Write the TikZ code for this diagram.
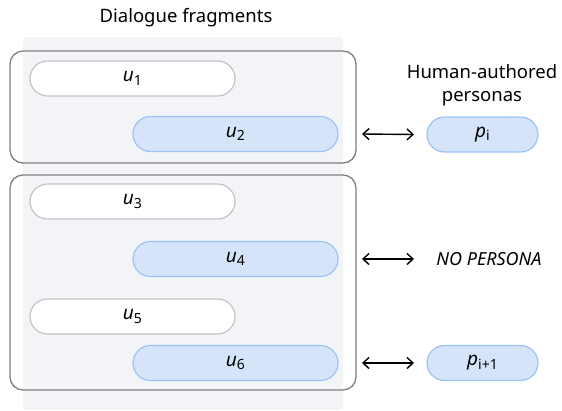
\documentclass[tikz,border=0pt]{standalone}
\usepackage{fontspec}
\setmainfont{Noto Sans}
\usetikzlibrary{arrows.meta}
\definecolor{panel}{HTML}{F2F4F8}
\definecolor{grpline}{HTML}{7F7F7F}
\definecolor{wline}{HTML}{C4C4C4}
\definecolor{bfill}{HTML}{D6E4FA}
\definecolor{bline}{HTML}{9CC2F6}
\newcommand{\utt}[2]{\textit{#1}\raisebox{-0.35ex}{\fontsize{14}{16}\selectfont #2}}
\tikzset{
  pill/.style={rounded corners=17.5pt, line width=1.2pt, minimum height=35pt, inner sep=0pt, font=\fontsize{19}{22}\selectfont},
  upill/.style={pill, draw=wline, fill=white, minimum width=205pt},
  apill/.style={pill, draw=bline, fill=bfill, minimum width=205pt},
  ppill/.style={pill, draw=bline, fill=bfill, minimum width=111pt},
  grp/.style={draw=grpline, line width=1.3pt, rounded corners=13pt},
  link/.style={{Straight Barb[length=6pt,width=11pt]}-{Straight Barb[length=6pt,width=11pt]}, line width=1.4pt},
  lbl/.style={font=\fontsize{18.5}{23}\selectfont, align=center}
}
\begin{document}
\begin{tikzpicture}[x=1pt,y=-1pt]
\useasboundingbox (0,0) rectangle (562,410);
\fill[panel, rounded corners=3pt] (23,37) rectangle (343,410);
\node[grp, minimum width=346pt, minimum height=112pt, inner sep=0pt] (g1) at (183,107) {};
\node[grp, minimum width=346pt, minimum height=215pt, inner sep=0pt] (g2) at (183,282.5) {};
\node[lbl] (title) at (186,18) {Dialogue fragments};
\node[upill] (u1) at (132.5,78.5) {\utt{u}{1}};
\node[apill] (u2) at (235.5,134) {\utt{u}{2}};
\node[upill] (u3) at (132.5,201.5) {\utt{u}{3}};
\node[apill] (u4) at (235.5,259) {\utt{u}{4}};
\node[upill] (u5) at (132.5,316.5) {\utt{u}{5}};
\node[apill] (u6) at (235.5,363) {\utt{u}{6}};
\node[lbl] (hp) at (482,85) {Human-authored\\personas};
\node[ppill] (p1) at (482.5,134.5) {\utt{p}{i}};
\node[lbl, font=\fontsize{18}{22}\selectfont\itshape] (np) at (489,259) {NO PERSONA};
\node[ppill] (p2) at (482.5,363) {\utt{p}{i+1}};
\coordinate (a1) at (362,134);
\coordinate (a2) at (362,259);
\coordinate (a3) at (362,363);
\draw[link] (a1) -- (p1.west -| 414,0);
\draw[link] (a2) -- (414,259) coordinate (b2);
\draw[link] (a3) -- (p2.west -| 414,0);
\end{tikzpicture}
\end{document}
